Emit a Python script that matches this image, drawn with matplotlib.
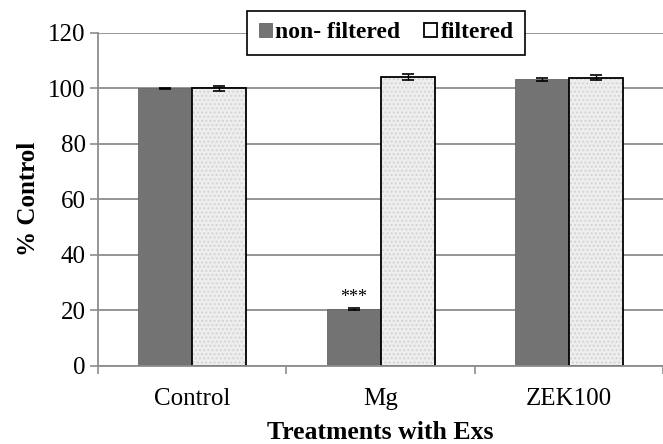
import matplotlib
matplotlib.use("Agg")
import matplotlib.pyplot as plt
import numpy as np

plt.rcParams['font.family'] = ['Liberation Serif', 'DejaVu Serif']

# data
categories = ['Control', 'Mg', 'ZEK100']
non_filtered = [100.0, 20.5, 103.2]
non_filtered_err = [0.3, 0.4, 0.4]
filtered = [100.0, 104.1, 103.9]
filtered_err = [0.9, 1.1, 0.9]
stars = ['', '***', '']

x = np.arange(len(categories))
w = 0.287
grid_col = '#8c8c8c'

fig = plt.figure(figsize=(6.63, 4.44), dpi=100)
ax = fig.add_axes([0.148, 0.176, 0.852, 0.750])

ax.set_axisbelow(True)
ax.yaxis.grid(True, color=grid_col, linewidth=1.3)

ekw = dict(ecolor='black', lw=1, capthick=1.2)
ax.bar(x - w / 2, non_filtered, w, color='#737373', edgecolor='#666666',
       linewidth=0.6, label='non- filtered',
       yerr=non_filtered_err, capsize=4, error_kw=ekw)
# speckled light fill for the filtered bars
ax.bar(x + w / 2, filtered, w, color='#eeeeee', edgecolor='#d4d4d4',
       linewidth=0, hatch='....')
ax.bar(x + w / 2, filtered, w, fill=False, edgecolor='black',
       linewidth=1.3, label='filtered',
       yerr=filtered_err, capsize=4, error_kw=ekw)

for xi, v, e, s in zip(x, non_filtered, non_filtered_err, stars):
    if s:
        ax.text(xi - w / 2, v + e + 0.8, s, ha='center', va='bottom', fontsize=13)

ax.set_xlim(-0.5, 2.5)
ax.set_ylim(0, 120)
ax.set_yticks(np.arange(0, 121, 20))
ax.set_xticks(x)
ax.set_xticklabels(categories)
ax.set_xticks([-0.5, 0.5, 1.5, 2.5], minor=True)
ax.tick_params(axis='x', which='major', length=0, labelsize=18, pad=16)
ax.tick_params(axis='x', which='minor', length=6, color=grid_col, width=1.2)
ax.tick_params(axis='y', length=6, color=grid_col, width=1.2, labelsize=18, pad=3)

for side in ['top', 'right']:
    ax.spines[side].set_visible(False)
for side in ['left', 'bottom']:
    ax.spines[side].set_color(grid_col)
    ax.spines[side].set_linewidth(1.3)

ax.set_ylabel('% Control', fontsize=18, fontweight='bold', labelpad=6)
ax.set_xlabel('Treatments with Exs', fontsize=18.5, fontweight='bold', labelpad=8)

leg = ax.legend(loc='center', bbox_to_anchor=(0.51, 1.0), ncol=2,
                prop={'size': 17, 'weight': 'bold'}, frameon=True, fancybox=False,
                handlelength=0.55, handleheight=0.55, handletextpad=0.15,
                columnspacing=1.0, borderpad=0.5, framealpha=1)
leg.get_frame().set_edgecolor('black')
leg.get_frame().set_linewidth(1.2)

fig.savefig('out.png', dpi=100)
